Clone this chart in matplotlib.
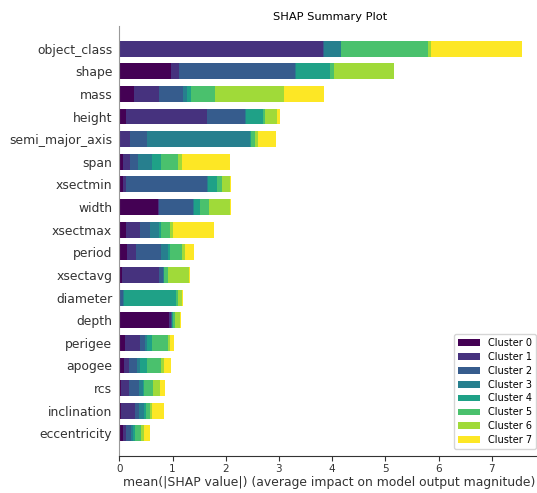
import numpy as np
import matplotlib
matplotlib.use("Agg")
import matplotlib.pyplot as plt

# Features, listed top to bottom
features = ["object_class", "shape", "mass", "height", "semi_major_axis", "span",
            "xsectmin", "width", "xsectmax", "period", "xsectavg", "diameter",
            "depth", "perigee", "apogee", "rcs", "inclination", "eccentricity"]

clusters = ["Cluster 0", "Cluster 1", "Cluster 2", "Cluster 3",
            "Cluster 4", "Cluster 5", "Cluster 6", "Cluster 7"]

# mean(|SHAP value|) per feature, one list per cluster (same order as features)
cluster_0 = [0.005, 0.977, 0.282, 0.132, 0.019, 0.075, 0.075, 0.733, 0.132, 0.150, 0.056, 0.003, 0.940, 0.113, 0.094, 0.038, 0.038, 0.075]
cluster_1 = [3.830, 0.151, 0.470, 1.522, 0.188, 0.132, 0.057, 0.019, 0.263, 0.170, 0.696, 0.005, 0.037, 0.282, 0.094, 0.150, 0.263, 0.057]
cluster_2 = [0.005, 2.180, 0.451, 0.714, 0.319, 0.150, 1.522, 0.639, 0.188, 0.469, 0.075, 0.067, 0.010, 0.094, 0.150, 0.188, 0.075, 0.094]
cluster_3 = [0.325, 0.005, 0.075, 0.005, 1.936, 0.263, 0.005, 0.005, 0.169, 0.132, 0.012, 0.019, 0.009, 0.037, 0.057, 0.075, 0.094, 0.037]
cluster_4 = [0.010, 0.639, 0.075, 0.320, 0.005, 0.169, 0.169, 0.113, 0.037, 0.038, 0.007, 0.977, 0.020, 0.094, 0.131, 0.019, 0.038, 0.038]
cluster_5 = [1.620, 0.088, 0.452, 0.038, 0.089, 0.320, 0.094, 0.169, 0.170, 0.225, 0.075, 0.038, 0.037, 0.301, 0.263, 0.169, 0.075, 0.113]
cluster_6 = [0.056, 1.115, 1.297, 0.225, 0.057, 0.075, 0.151, 0.395, 0.056, 0.057, 0.395, 0.075, 0.094, 0.038, 0.057, 0.132, 0.037, 0.056]
cluster_7 = [1.710, 0.013, 0.745, 0.057, 0.338, 0.902, 0.018, 0.018, 0.771, 0.169, 0.019, 0.019, 0.018, 0.075, 0.131, 0.094, 0.226, 0.113]

series = [cluster_0, cluster_1, cluster_2, cluster_3,
          cluster_4, cluster_5, cluster_6, cluster_7]

axis_color = "#333333"
colors = plt.get_cmap("viridis")(np.linspace(0, 1, len(clusters)))

W, H = 537, 493
fig = plt.figure(figsize=(W / 100, H / 100), dpi=100)
ax = fig.add_axes([119.3 / W, (H - 456) / H, (540 - 119.3) / W, (456 - 26) / H])

y_pos = np.arange(len(features))[::-1]
left = np.zeros(len(features))
for name, vals, col in zip(clusters, series, colors):
    vals = np.asarray(vals)
    ax.barh(y_pos, vals, height=0.7, left=left, color=col, label=name)
    left += vals

ax.set_ylim(-1, len(features))
ax.set_xlim(0, (540 - 119.3) / 53.2)
ax.set_yticks(y_pos)
ax.set_yticklabels(features, fontsize=8.9, color=axis_color)
ax.set_xticks(range(0, 8))
ax.tick_params(axis="x", labelsize=7.5, color=axis_color, labelcolor=axis_color,
               length=3.5, width=0.8, pad=2.5)
ax.tick_params(axis="y", length=0, pad=5)
ax.spines["right"].set_visible(False)
ax.spines["top"].set_visible(False)
ax.spines["left"].set_color("#999999")
ax.spines["bottom"].set_color(axis_color)

ax.set_xlabel("mean(|SHAP value|) (average impact on model output magnitude)",
              fontsize=8.9, color=axis_color, labelpad=1)
ax.set_title("SHAP Summary Plot", fontsize=8.2, pad=4)

ax.legend(loc="lower right", bbox_to_anchor=(536 / W, 1 - 449 / H),
          bbox_transform=fig.transFigure, borderaxespad=0, fontsize=7.0,
          labelspacing=0.40, handlelength=2.3, handleheight=0.7,
          fancybox=True, framealpha=0.8, edgecolor="#cccccc")

fig.savefig("out.png", dpi=100)
